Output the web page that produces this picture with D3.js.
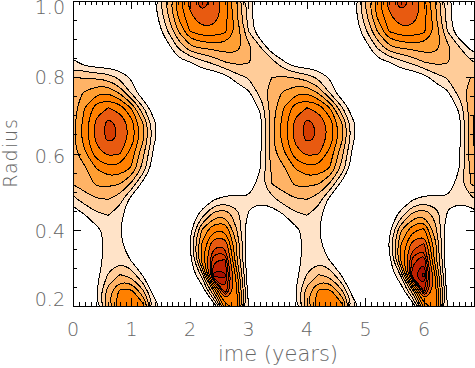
<!DOCTYPE html>
<html>
<head>
<meta charset="utf-8">
<script src="https://cdn.jsdelivr.net/npm/d3@7"></script>
<style>
    html, body { margin: 0; padding: 0; background: #fff; }
    svg { display: block; }
    text { font-family: "DejaVu Sans"; font-weight: 200; fill: #666; }
</style>
</head>
<body>
<svg id="chart" width="475" height="368"></svg>
<script>
// grid axes of the field
var times = d3.range(36).map(function (i) { return i * 0.2; });
var radii = [1.00, 0.96, 0.92, 0.88, 0.84, 0.80, 0.76, 0.72, 0.68, 0.64, 0.60, 0.56, 0.52, 0.48, 0.44, 0.40, 0.36, 0.32, 0.28, 0.24, 0.20];

// contour level read at every grid node, top row first
var field = [
    [0,0,0,0,0,0,0,.95,3.1,5.7,7.4,8.45,7.9,6.5,4.05,1.6,0, 0,0,0,0,0,0,0,.7,3.1,5.7,7.4,8.45,7.9,6.5,4.05,1.6, 0,0,0],
    [0,0,0,0,0,0,0,.5,2.7,5.1,6.75,7.8,7.6,6.4,4.05,1.5,0, 0,0,0,0,0,0,0,.3,2.7,5.1,6.75,7.8,7.6,6.4,4.05,1.5, 0,0,0],
    [0,0,0,0,0,0,0,0,1.8,4,6,6.6,6.6,6.2,4.8,2,0, 0,0,0,0,0,0,0,0,1.8,4,6,6.6,6.6,6.2,4.8,2, 0,0,0],
    [0,0,0,0,0,0,0,0,.4,2.2,3.8,4.25,4.4,4.6,4.4,3.3,2, 0,0,0,0,0,0,0,0,.4,2.2,3.8,4.25,4.4,4.6,4.4,3.3, 2,.6,0],
    [1.3,.4,0,0,0,0,0,0,0,.6,1,1.7,2.3,3,3.3,3.1,2.5, 2.4,1.1,0,0,0,0,0,0,0,.6,1,1.7,2.3,3,3.3,3.1, 2.5,2.1,1.8],
    [3,2.9,2.8,2.5,1.7,.8,0,0,0,0,0,0,0,.6,1.6,2.1,2.4, 3,3.1,2.9,2.5,1.7,.8,0,0,0,0,0,0,0,.6,1.6,2.1, 2.4,3,3],
    [3.6,4.1,4.8,4.9,3.8,1.8,0,0,0,0,0,0,0,0,0,.8,2.4, 3.6,4.1,4.8,4.9,3.8,1.8,0,0,0,0,0,0,0,0,0,.8, 2.4,3.6,4.1],
    [3.5,5,6.5,7,6.6,4.9,2.1,0,0,0,0,0,0,0,0,0,1.2, 3.5,5,6.5,7,6.6,4.9,2.1,0,0,0,0,0,0,0,0,0, 1.2,3.5,5],
    [3.6,5.5,7.3,8.3,7.8,6.5,4,1.1,0,0,0,0,0,0,0,0,.6, 3.6,5.5,7.3,8.3,7.8,6.5,4,1.1,0,0,0,0,0,0,0,0, .6,3.6,5.5],
    [3.7,5.5,7.3,8.3,7.9,6.6,4.2,1.1,0,0,0,0,0,0,0,0,.7, 3.7,5.5,7.3,8.3,7.9,6.6,4.2,1.1,0,0,0,0,0,0,0,0, .7,3.7,5.5],
    [3.6,4.8,6.6,7.2,7.1,5.5,3.2,.4,0,0,0,0,0,0,0,0,.8, 3.6,4.8,6.6,7.2,7.1,5.5,3.2,.4,0,0,0,0,0,0,0,0, .8,3.6,4.8],
    [3.2,3.8,5,5.7,5.6,4.9,2.6,0,0,0,0,0,0,0,0,0,1, 3.2,3.8,5,5.7,5.6,4.9,2.6,0,0,0,0,0,0,0,0,0, 1,3.2,3.8],
    [3,3.5,4.15,4.25,4,2.8,.5,0,0,0,0,0,0,0,0,0,1.6, 3,3.5,4.15,4.25,4,2.8,.5,0,0,0,0,0,0,0,0,0, 1.6,3,3.5],
    [1.7,2.5,2.95,3,2.5,.5,0,0,0,0,0,0,.9,1.3,1.3,1.2,1.4, 1.7,2.5,2.95,3,2.5,.5,0,0,0,0,0,0,.9,1.3,1.3,1.2, 1.4,1.7,2.5],
    [.3,1,1.8,2.05,1.35,0,0,0,0,0,0,1.5,3.4,3.8,2.4,.9,0, .3,1,1.8,2.05,1.35,0,0,0,0,0,0,1.4,3.3,3.9,2.6,.9,0, .3,1],
    [0,0,.7,1.4,1.1,0,0,0,0,0,.7,4,5.9,5.9,3,0,0, 0,0,.7,1.4,1.1,0,0,0,0,0,.7,3.8,5.7,6.2,3.2,0,0, 0,0],
    [0,0,.5,1.4,1.3,0,0,0,0,0,1,5.2,7.8,7.9,4,0,0, 0,0,.5,1.4,1.3,0,0,0,0,0,1,5,7.5,8.2,4.2,0,0, 0,0],
    [0,0,.5,1.5,1.8,.9,0,0,0,0,.5,5.3,9.2,9.4,4,0,0, 0,0,.5,1.5,1.8,.9,0,0,0,0,.5,5,9,9.9,4.2,0,0, 0,0],
    [0,0,.6,2.1,3.1,2.7,.9,0,0,0,0,2.2,10.3,10.2,5.5,0,0, 0,0,.6,2.1,3.1,2.7,.9,0,0,0,0,2,9.8,10.9,5.8,0,0, 0,0],
    [0,0,.9,3.5,5.2,5.2,3.1,0,0,0,0,0,4,9.2,6,.5,0, 0,0,.9,3.5,5.2,5.2,3.1,0,0,0,0,0,3.5,9.4,6.2,.5,0, 0,0],
    [0,0,.8,3.8,5.8,6,5.4,1.7,0,0,0,0,0,5.5,6.5,1,0, 0,0,.8,3.8,5.8,6,5.4,1.7,0,0,0,0,0,5.2,6.8,1,0, 0,0]
];

var lineLevels = [1, 2, 3, 4, 5, 6, 7, 8, 8.67, 9.33, 10, 10.67];
var fillLevels = [1, 2, 3, 4, 5, 7, 8, 9.33, 10];
var fillColors = ["#ffe3c8", "#ffcc99", "#ffb366", "#ff9f33", "#ff8000", "#e85a10", "#d63c00", "#c02000", "#a81000"];

var yTickValues = [0.2, 0.4, 0.6, 0.8, 1.0];
var yTickLabels = ["0.2", "0.4", "0.6", "0.8", "1.0"];
var yTickOffsets = [0, 8, 9, 7, 13];   // labels slide inward at the ends
var xTickValues = [0, 1, 2, 3, 4, 5, 6];

var x = d3.scaleLinear().domain([0, 6.855]).range([73, 474]);
var y = d3.scaleLinear().domain([0.2, 1.0]).range([306, 1]);

var svg = d3.select("#chart");

svg.append("clipPath")
    .attr("id", "plotClip")
    .append("rect")
    .attr("x", x.range()[0])
    .attr("y", y.range()[1])
    .attr("width", x.range()[1] - x.range()[0])
    .attr("height", y.range()[0] - y.range()[1]);

var plot = svg.append("g").attr("clip-path", "url(#plotClip)");

// grid index -> data -> pixel
var timeStep = times[1] - times[0];
var radiusStep = radii[0] - radii[1];
var project = function (p) {
    return [x((p[0] - 0.5) * timeStep), y(radii[0] - (p[1] - 0.5) * radiusStep)];
};

var ringPath = d3.line().curve(d3.curveBasisClosed);

var contourPath = function (geometry) {
    var parts = [];
    geometry.coordinates.forEach(function (polygon) {
        polygon.forEach(function (ring) {
            parts.push(ringPath(ring.slice(0, -1).map(project)));
        });
    });
    return parts.join("");
};

var contours = d3.contours()
    .size([times.length, radii.length])
    .smooth(true);

var flat = d3.merge(field);

plot.selectAll(".band")
    .data(contours.thresholds(fillLevels)(flat))
    .enter()
    .append("path")
    .attr("class", "band")
    .attr("fill-rule", "evenodd")
    .attr("fill", function (d, i) { return fillColors[i]; })
    .attr("d", contourPath);

plot.selectAll(".level")
    .data(contours.thresholds(lineLevels)(flat))
    .enter()
    .append("path")
    .attr("class", "level")
    .attr("fill", "none")
    .attr("stroke", "#000")
    .attr("stroke-width", 1)
    .attr("shape-rendering", "crispEdges")
    .attr("d", contourPath);

// frame and ticks, all four sides tick inward
var xMinor = d3.range(0, 6.85, 0.1);
var yMinor = d3.range(0.2, 1.001, 0.05);

var drawAxis = function (axis, tx, ty) {
    var g = svg.append("g")
        .attr("transform", "translate(" + tx + "," + ty + ")")
        .attr("shape-rendering", "crispEdges")
        .call(axis);
    g.selectAll(".domain").remove();
    g.selectAll("text").remove();
    g.selectAll("line").attr("stroke", "#000");
};

drawAxis(d3.axisBottom(x).tickValues(xMinor).tickSize(-4), 0, 306);
drawAxis(d3.axisBottom(x).tickValues(xTickValues).tickSize(-8), 0, 306);
drawAxis(d3.axisTop(x).tickValues(xMinor).tickSize(-4), 0, 1);
drawAxis(d3.axisTop(x).tickValues(xTickValues).tickSize(-8), 0, 1);
drawAxis(d3.axisLeft(y).tickValues(yMinor).tickSize(-4), 73, 0);
drawAxis(d3.axisLeft(y).tickValues(yTickValues).tickSize(-8), 73, 0);
drawAxis(d3.axisRight(y).tickValues(yMinor).tickSize(-4), 474, 0);
drawAxis(d3.axisRight(y).tickValues(yTickValues).tickSize(-8), 474, 0);

svg.append("rect")
    .attr("x", 73)
    .attr("y", 1)
    .attr("width", 401)
    .attr("height", 305)
    .attr("fill", "none")
    .attr("stroke", "#000")
    .attr("stroke-width", 1)
    .attr("shape-rendering", "crispEdges");

svg.selectAll(".yLabel")
    .data(yTickValues)
    .enter()
    .append("text")
    .attr("class", "yLabel")
    .attr("x", 65)
    .attr("y", function (d, i) { return y(d) + yTickOffsets[i]; })
    .attr("text-anchor", "end")
    .attr("font-size", 19)
    .text(function (d, i) { return yTickLabels[i]; });

svg.selectAll(".xLabel")
    .data(xTickValues)
    .enter()
    .append("text")
    .attr("class", "xLabel")
    .attr("x", function (d) { return x(d); })
    .attr("y", 336)
    .attr("text-anchor", "middle")
    .attr("font-size", 19)
    .text(function (d) { return d; });

svg.append("text")
    .attr("x", 278)
    .attr("y", 361)
    .attr("text-anchor", "middle")
    .attr("font-size", 21)
    .text("ime (years)");

svg.append("text")
    .attr("transform", "translate(17,153) rotate(-90)")
    .attr("text-anchor", "middle")
    .attr("font-size", 19)
    .attr("letter-spacing", 1)
    .text("Radius");
</script>
</body>
</html>
